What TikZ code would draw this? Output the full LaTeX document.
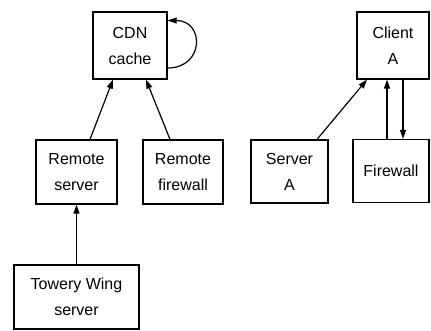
\documentclass[tikz,border=0pt]{standalone}
\usepackage{fontspec}
\setmainfont{Liberation Sans}
\usetikzlibrary{arrows.meta, calc}

\begin{document}
\begin{tikzpicture}[x=1pt, y=-1pt,
	box/.style={draw, line width=1.2pt, align=center, inner sep=0pt,
		font=\fontsize{16}{26}\selectfont},
	link/.style={line width=1.2pt, -{Triangle[length=9pt, width=6pt]}}]
	\useasboundingbox (0,0) rectangle (431,331);
	% hosts
	\node [box, minimum width=74, minimum height=67] (cdn) at (130,45.5) {CDN\\cache};
	\node [box, minimum width=72, minimum height=67] (client) at (393,45.5) {Client\\A};
	\node [box, minimum width=81, minimum height=64] (rserver) at (76.5,172) {Remote\\server};
	\node [box, minimum width=80, minimum height=64] (rfirewall) at (183,172) {Remote\\firewall};
	\node [box, minimum width=77, minimum height=63] (servera) at (289.5,171.5) {Server\\A};
	\node [box, minimum width=76, minimum height=63] (firewall) at (391,171) {Firewall};
	\node [box, minimum width=125, minimum height=64] (tower) at (76.5,297) {Towery Wing\\server};
	% connections
	\draw [link] ([xshift=13.5]rserver.north) -- ([xshift=-17]cdn.south);
	\draw [link] ([xshift=-13]rfirewall.north) -- ([xshift=16]cdn.south);
	\draw [link] ([yshift=-22.5]cdn.east) .. controls +(37,0) and +(37,0) .. ([yshift=25]cdn.east);
	\draw [link] (tower.north) -- (rserver.south);
	\draw [link] ([xshift=27.5]servera.north) -- ([xshift=-26]client.south);
	\draw [link] ([xshift=-4]firewall.north) -- ([xshift=-4]firewall.north |- client.south);
	\draw [link] ([xshift=10]client.south) -- ([xshift=10]client.south |- firewall.north);
\end{tikzpicture}
\end{document}
